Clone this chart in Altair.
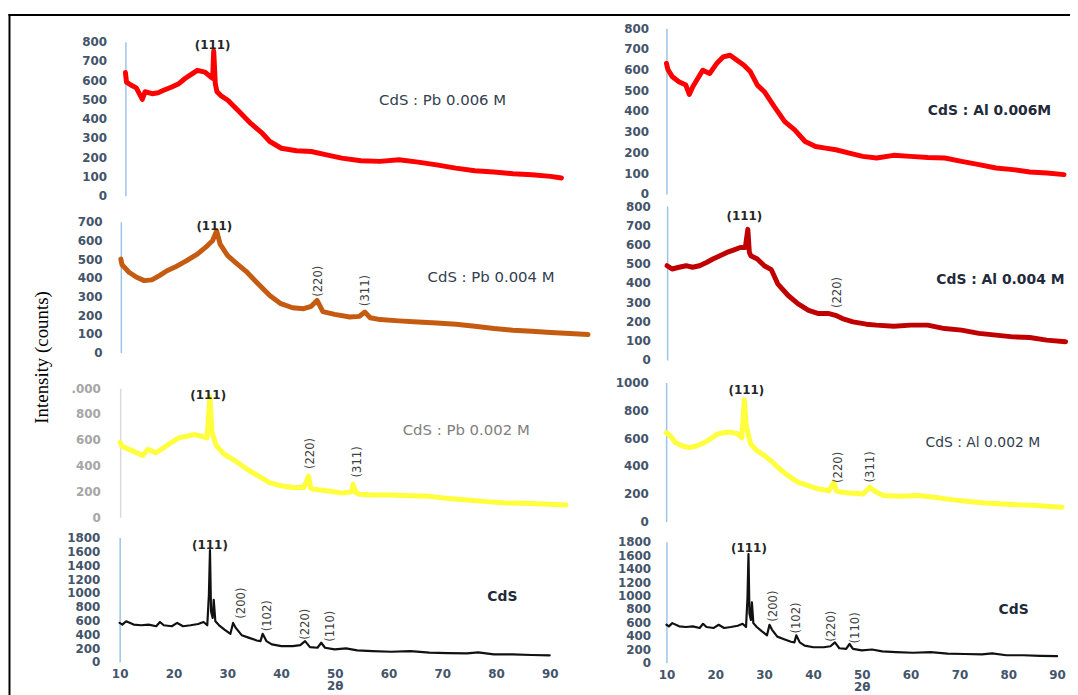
import altair as alt
import pandas as pd

# ---------------- data : 2θ (degrees) and intensity (counts) ----------------
pb006_t = [10.0, 10.2, 11.0, 12.0, 13.1, 13.6, 14.9, 16.0, 17.0, 18.5, 19.8, 21.0, 21.8, 23.2, 24.6, 25.7, 26.0, 26.2, 26.5, 26.8,
           27.5, 28.8, 30.9, 33.0, 35.1, 36.5, 38.6, 41.4, 44.1, 46.9, 49.7, 53.2, 56.7, 60.2, 63.7, 67.1, 70.6, 74.1, 77.6, 81.1,
           84.6, 88.0, 90.0]
pb006_c = [640, 590, 575, 560, 500, 540, 530, 535, 548, 565, 582, 610, 625, 651, 642, 616, 610, 752, 580, 540,
           520, 496, 436, 376, 325, 282, 247, 234, 230, 213, 196, 182, 179, 187, 175, 161, 144, 130, 124, 115,
           110, 101, 93]

al006_t = [10.0, 10.3, 11.2, 12.5, 13.9, 14.6, 15.3, 16.3, 17.3, 18.7, 20.1, 21.4, 22.8, 24.2, 25.6, 26.9, 28.3, 29.7, 31.7, 33.8,
           35.8, 37.9, 40.0, 42.0, 44.1, 46.8, 49.5, 52.3, 55.7, 59.1, 62.6, 66.0, 69.4, 72.9, 76.3, 79.7, 83.1, 86.6, 90.0]
al006_c = [630, 600, 565, 541, 525, 480, 517, 557, 597, 581, 629, 661, 669, 645, 621, 589, 525, 493, 421, 349,
           309, 253, 229, 221, 213, 197, 181, 173, 186, 181, 176, 173, 157, 141, 125, 117, 106, 101, 93]

pb004_t = [10.0, 10.2, 11.4, 12.7, 14.0, 15.3, 16.6, 17.9, 19.2, 21.2, 23.1, 24.8, 25.7, 26.4, 27.0, 28.3, 29.6, 31.6, 33.5, 35.5,
           37.4, 39.4, 41.3, 42.6, 43.6, 44.6, 46.6, 49.2, 50.8, 51.8, 52.7, 54.4, 57.6, 60.9, 64.1, 67.4, 70.6, 73.9, 77.1, 80.4,
           83.6, 86.9, 90.0]
pb004_c = [500, 470, 430, 403, 385, 389, 412, 438, 456, 491, 527, 571, 598, 651, 580, 518, 483, 430, 368, 306,
           262, 240, 235, 248, 279, 219, 205, 191, 194, 217, 187, 177, 170, 164, 159, 152, 141, 129, 120, 115,
           108, 103, 97]

al004_t = [10.0, 11.0, 12.4, 13.8, 15.1, 16.5, 17.9, 19.2, 20.6, 22.0, 23.3, 24.7, 25.7, 26.2, 26.5, 26.8, 28.1, 29.5, 30.9, 32.2,
           34.3, 36.3, 38.4, 40.4, 42.5, 43.8, 45.2, 47.3, 50.0, 52.0, 55.5, 58.9, 62.3, 65.7, 69.1, 72.6, 76.0, 79.4, 82.8, 86.2,
           90.0]
al004_c = [490, 473, 482, 490, 482, 490, 507, 525, 542, 559, 571, 585, 585, 679, 560, 542, 525, 490, 470, 396,
           335, 292, 258, 241, 241, 232, 215, 198, 186, 181, 175, 181, 181, 163, 155, 138, 129, 120, 117, 103,
           95]

pb002_t = [10.0, 10.3, 11.6, 13.0, 14.0, 15.0, 16.4, 17.8, 19.1, 20.5, 21.9, 23.2, 24.6, 25.6, 26.1, 26.5, 27.3, 28.7, 30.7, 32.8,
           34.8, 36.8, 38.9, 40.9, 43.0, 43.8, 44.2, 44.7, 47.1, 49.8, 51.5, 51.8, 52.3, 52.9, 55.2, 58.7, 62.1, 65.5, 68.9, 72.3,
           75.7, 79.1, 82.5, 85.9, 90.0]
pb002_c = [580, 551, 526, 500, 479, 526, 500, 538, 577, 615, 628, 641, 628, 615, 936, 654, 551, 487, 436, 372,
           320, 269, 244, 231, 231, 320, 225, 218, 205, 187, 197, 256, 190, 179, 172, 172, 167, 162, 146, 133,
           121, 110, 108, 103, 95]

al002_t = [10.0, 10.9, 11.9, 13.3, 14.7, 16.1, 17.4, 18.8, 20.2, 21.6, 22.9, 24.3, 25.3, 25.8, 26.2, 27.1, 28.4, 29.8, 31.2, 32.6,
           34.6, 36.7, 38.7, 40.8, 42.9, 43.9, 44.4, 44.9, 47.0, 49.8, 51.1, 52.5, 53.9, 57.3, 60.8, 64.2, 67.6, 71.1, 74.5, 77.9,
           81.4, 84.8, 90.0]
al002_c = [638, 614, 567, 543, 531, 543, 562, 590, 626, 638, 643, 633, 602, 876, 686, 555, 507, 476, 436, 388,
           329, 281, 257, 233, 221, 281, 220, 214, 205, 198, 245, 210, 186, 181, 186, 174, 157, 143, 133, 126,
           119, 114, 102]

cds_t = [10.0, 10.5, 11.2, 12.6, 14.0, 15.4, 16.8, 17.5, 18.2, 19.7, 20.7, 21.8, 23.2, 24.6, 25.6, 26.3, 26.6, 26.8, 27.0, 27.3,
         27.5, 27.8, 28.5, 29.5, 30.6, 31.1, 31.6, 32.7, 34.1, 35.5, 36.2, 36.6, 37.3, 38.3, 40.1, 42.2, 43.6, 44.5, 45.4, 46.8,
         47.5, 48.2, 50.0, 52.1, 54.2, 57.0, 60.5, 64.1, 67.6, 71.1, 74.6, 76.7, 79.6, 83.1, 86.6, 90.0]
cds_c = [565, 541, 589, 541, 531, 541, 517, 579, 531, 517, 565, 517, 531, 550, 579, 531, 972, 1618, 732, 637,
         900, 589, 531, 469, 407, 565, 493, 388, 349, 311, 302, 407, 302, 254, 230, 230, 244, 302, 215, 206,
         278, 206, 182, 196, 168, 158, 148, 158, 134, 129, 124, 139, 110, 110, 101, 96]

sample_names = ["CdS : Pb 0.006 M", "CdS :  Al 0.006M", "CdS : Pb 0.004 M", "CdS : Al 0.004 M",
                "CdS : Pb 0.002 M", "CdS : Al 0.002 M", "CdS", "CdS"]
sample_name_t = [68.2, 75.0, 73.4, 76.9, 72.1, 74.0, 81.2, 81.1]
sample_name_c = [496, 401, 403, 413, 673, 567, 934, 788]

y_max = [800, 800, 700, 800, 1000, 1000, 1800, 1800]
y_step = [100, 100, 100, 100, 200, 200, 200, 200]
x_ticks = [10, 20, 30, 40, 50, 60, 70, 80, 90]

# (111) reflection labels: panel, 2θ, counts
p111_panel = [0, 2, 3, 4, 5, 6, 7]
p111_t = [26.0, 26.0, 25.5, 25.8, 26.2, 26.8, 26.9]
p111_c = [781, 677, 748, 950, 948, 1699, 1701]

# other reflections (written vertically): panel, 2θ, counts, label
hkl_panel = [2, 2, 3, 4, 4, 5, 5, 6, 6, 6, 6, 7, 7, 7, 7]
hkl_t = [43.8, 51.8, 44.2, 44.0, 52.5, 44.8, 51.2, 32.6, 37.4, 44.5, 49.1, 31.9, 36.6, 43.7, 48.7]
hkl_c = [382, 332, 351, 494, 429, 389, 393, 852, 669, 546, 517, 843, 666, 543, 518]
hkl_lab = ["(220)", "(311)", "(220)", "(220)", "(311)", "(220)", "(311)",
           "(200)", "(102)", "(220)", "(110)", "(200)", "(102)", "(220)", "(110)"]

series_t = [pb006_t, al006_t, pb004_t, al004_t, pb002_t, al002_t, cds_t, cds_t]
series_c = [pb006_c, al006_c, pb004_c, al004_c, pb002_c, al002_c, cds_c, cds_c]

# ---------------- layout / style ----------------
W, H = 1069, 675
FONT = "DejaVu Sans"
AXIS_BLUE = "#9dc3e6"
LABEL_SLATE = "#44546a"

panel_style = [
    dict(color="#ff0000", sw=5.0, xr=[117.3, 556.6], yr=[182.7, 27.3], lpad=19, lcol=LABEL_SLATE, dcol=AXIS_BLUE,
         nfs=15, nfw="normal", ncol="#333f50"),
    dict(color="#ff0000", sw=5.0, xr=[662.4, 1063.0], yr=[180.7, 13.7], lpad=18, lcol=LABEL_SLATE, dcol=AXIS_BLUE,
         nfs=14, nfw="bold", ncol="#1f2a3a"),
    dict(color="#c55a11", sw=5.0, xr=[112.7, 583.4], yr=[340.7, 208.7], lpad=19, lcol=LABEL_SLATE, dcol=AXIS_BLUE,
         nfs=15, nfw="normal", ncol="#333f50"),
    dict(color="#c00000", sw=5.0, xr=[663.1, 1064.6], yr=[348.0, 193.0], lpad=17, lcol=LABEL_SLATE, dcol=AXIS_BLUE,
         nfs=14, nfw="bold", ncol="#1f2a3a"),
    dict(color="#ffff3c", sw=5.0, xr=[112.0, 561.2], yr=[506.5, 376.5], lpad=20, lcol="#a6a6a6", dcol="#d9d9d9",
         nfs=15, nfw="normal", ncol="#808080"),
    dict(color="#ffff3c", sw=5.0, xr=[662.1, 1061.0], yr=[510.7, 370.7], lpad=18, lcol=LABEL_SLATE, dcol=AXIS_BLUE,
         nfs=14, nfw="normal", ncol="#333f50"),
    dict(color="#111111", sw=2.2, xr=[111.5, 544.8], yr=[652.3, 527.0], lpad=20, lcol=LABEL_SLATE, dcol=AXIS_BLUE,
         nfs=14, nfw="bold", ncol="#1f2a3a"),
    dict(color="#111111", sw=2.2, xr=[662.4, 1056.0], yr=[653.0, 531.3], lpad=16, lcol=LABEL_SLATE, dcol=AXIS_BLUE,
         nfs=14, nfw="bold", ncol="#1f2a3a"),
]

layers = []
for i, st in enumerate(panel_style):
    xs = alt.Scale(domain=[10, 90], range=st["xr"], nice=False, zero=False)
    ys = alt.Scale(domain=[0, y_max[i]], range=st["yr"], nice=False, zero=False)

    yaxis_kw = dict(orient="left", offset=-st["xr"][0], values=list(range(0, y_max[i] + 1, y_step[i])),
                    format="d", ticks=False, grid=False, domainColor=st["dcol"], domainWidth=1.5,
                    labelColor=st["lcol"], labelFont=FONT, labelFontSize=12, labelFontWeight="bold",
                    labelPadding=st["lpad"], labelOverlap=False, title=None)
    if i == 4:
        yaxis_kw["labelExpr"] = "datum.value == 1000 ? '.000' : datum.label"
    yaxis = alt.Axis(**yaxis_kw)

    if i >= 6:
        xaxis = alt.Axis(orient="bottom", offset=st["yr"][0] - H, values=x_ticks, format="d", ticks=False,
                         grid=False, domain=False, labelColor=LABEL_SLATE, labelFont=FONT, labelFontSize=12,
                         labelFontWeight="bold", labelPadding=7, labelFlush=False, labelOverlap=False,
                         title="2θ", titleFont=FONT, titleFontSize=12, titleFontWeight="bold",
                         titleColor=LABEL_SLATE, titlePadding=1)
    else:
        xaxis = None

    df = pd.DataFrame({"t": series_t[i], "c": series_c[i]})
    layers.append(
        alt.Chart(df).mark_line(color=st["color"], strokeWidth=st["sw"], strokeJoin="round", strokeCap="round")
        .encode(x=alt.X("t:Q", scale=xs, axis=xaxis), y=alt.Y("c:Q", scale=ys, axis=yaxis))
    )

    # sample name
    ndf = pd.DataFrame({"t": [sample_name_t[i]], "c": [sample_name_c[i]], "lab": [sample_names[i]]})
    layers.append(
        alt.Chart(ndf).mark_text(font=FONT, fontSize=st["nfs"], fontWeight=st["nfw"], color=st["ncol"],
                                 align="center", baseline="middle")
        .encode(x=alt.X("t:Q", scale=xs, axis=None), y=alt.Y("c:Q", scale=ys, axis=None), text="lab:N")
    )

    # (111) label
    idx = [k for k, p in enumerate(p111_panel) if p == i]
    if idx:
        pdf = pd.DataFrame({"t": [p111_t[k] for k in idx], "c": [p111_c[k] for k in idx],
                            "lab": ["(111)" for k in idx]})
        layers.append(
            alt.Chart(pdf).mark_text(font=FONT, fontSize=12, fontWeight="bold", color="#262626",
                                     align="center", baseline="middle")
            .encode(x=alt.X("t:Q", scale=xs, axis=None), y=alt.Y("c:Q", scale=ys, axis=None), text="lab:N")
        )

    # vertical reflection labels
    idx = [k for k, p in enumerate(hkl_panel) if p == i]
    if idx:
        hdf = pd.DataFrame({"t": [hkl_t[k] for k in idx], "c": [hkl_c[k] for k in idx],
                            "lab": [hkl_lab[k] for k in idx]})
        layers.append(
            alt.Chart(hdf).mark_text(font="Liberation Sans Narrow, DejaVu Sans Condensed, sans-serif",
                                     fontSize=13, color="#404040", angle=270,
                                     align="center", baseline="middle")
            .encode(x=alt.X("t:Q", scale=xs, axis=None), y=alt.Y("c:Q", scale=ys, axis=None), text="lab:N")
        )

# outer frame (top and left border) carrying the shared y title
frame_df = pd.DataFrame({"fx": [0], "fy": [0]})
frame = alt.Chart(frame_df).mark_point(opacity=0).encode(
    x=alt.X("fx:Q", scale=alt.Scale(domain=[0, 1], range=[-1, W + 10], nice=False, zero=False),
            axis=alt.Axis(orient="top", domainColor="black", domainWidth=2, ticks=False, labels=False,
                          grid=False, title=None)),
    y=alt.Y("fy:Q", scale=alt.Scale(domain=[0, 1], range=[H + 20, -1], nice=False, zero=False),
            axis=alt.Axis(orient="left", domainColor="black", domainWidth=2, ticks=False, labels=False,
                          grid=False, title="Intensity (counts)", titleFont="Liberation Serif",
                          titleFontSize=19, titleFontWeight="normal", titleColor="black",
                          titleAngle=270, titleAlign="center", titleBaseline="alphabetic",
                          titleX=39, titleY=345)),
)
layers.append(frame)

chart = (
    alt.layer(*layers)
    .resolve_scale(x="independent", y="independent")
    .properties(width=W, height=H, padding={"left": 1, "top": 4, "right": 0, "bottom": 8},
                autosize=alt.AutoSizeParams(type="none"), background="white")
    .configure_view(stroke=None)
)

chart.save("out.html", embed_options={"renderer": "svg", "actions": False})
